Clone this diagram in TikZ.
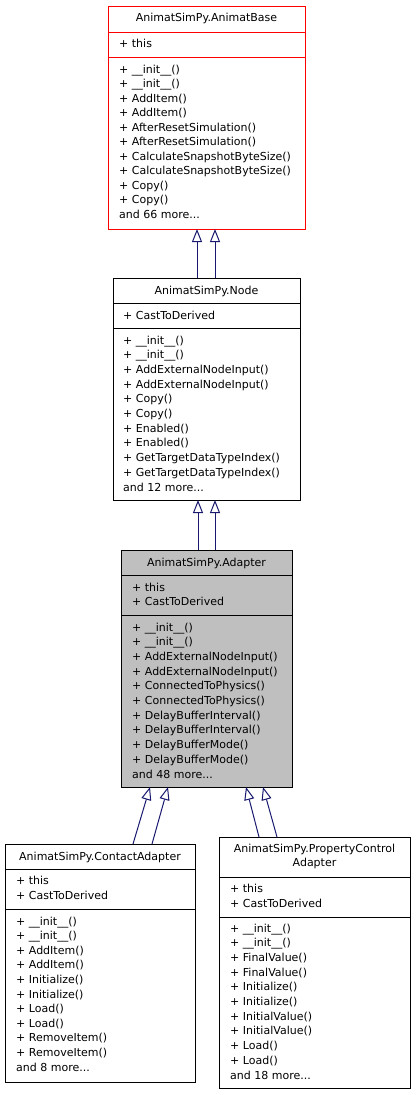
\documentclass[tikz,border=0pt]{standalone}
\usepackage{fontspec}
\setmainfont{DejaVu Sans}
\usetikzlibrary{arrows.meta}
\definecolor{edgeblue}{HTML}{191970}
\definecolor{adgray}{HTML}{BFBFBF}
\newcommand\threedots{...}
\tikzset{
  clsbox/.style={draw=black, line width=1pt, rectangle, inner sep=0pt, anchor=north west, fill=white},
  sepline/.style={draw=black, line width=1pt},
  txt/.style={anchor=base west, inner sep=0pt, font=\fontsize{11}{13}\selectfont},
  ttl/.style={anchor=base, inner sep=0pt, font=\fontsize{11}{13}\selectfont},
  inh/.style={draw=edgeblue, line width=1pt, -{Triangle[open, length=13pt, width=10pt, fill=white]}},
}
\begin{document}
\begin{tikzpicture}[x=1pt, y=-1pt]
\useasboundingbox (0,0) rectangle (415,1095);

% ---------- AnimatBase ----------
\node[clsbox, draw=red, minimum width=197pt, minimum height=223pt] (base) at (108,6) {};
\draw[sepline, draw=red] (108,32) -- (305,32);
\draw[sepline, draw=red] (108,57) -- (305,57);
\node[ttl] (base-t) at (206.5,21) {AnimatSimPy.AnimatBase};
\node[txt] (base-a1) at (119,47) {+ this};
\foreach \t [count=\i from 0] in {+ \_\_init\_\_(), + \_\_init\_\_(), + AddItem(), + AddItem(), + AfterResetSimulation(), + AfterResetSimulation(), + CalculateSnapshotByteSize(), + CalculateSnapshotByteSize(), + Copy(), + Copy(), and 66 more\threedots}
  \node[txt] (base-m\i) at (119,73.3+14.5*\i) {\t};

% ---------- Node ----------
\node[clsbox, minimum width=187pt, minimum height=222pt] (nd) at (113,278) {};
\draw[sepline] (113,303) -- (300,303);
\draw[sepline] (113,328) -- (300,328);
\node[ttl] (nd-t) at (206.5,294) {AnimatSimPy.Node};
\node[txt] (nd-a1) at (123,319) {+ CastToDerived};
\foreach \t [count=\i from 0] in {+ \_\_init\_\_(), + \_\_init\_\_(), + AddExternalNodeInput(), + AddExternalNodeInput(), + Copy(), + Copy(), + Enabled(), + Enabled(), + GetTargetDataTypeIndex(), + GetTargetDataTypeIndex(), and 12 more\threedots}
  \node[txt] (nd-m\i) at (123,344+14.7*\i) {\t};

% ---------- Adapter ----------
\node[clsbox, fill=adgray, minimum width=171pt, minimum height=237pt] (ad) at (121,550) {};
\draw[sepline] (121,575) -- (292,575);
\draw[sepline] (121,615) -- (292,615);
\node[ttl] (ad-t) at (206.5,566) {AnimatSimPy.Adapter};
\node[txt] (ad-a1) at (132,591) {+ this};
\node[txt] (ad-a2) at (132,605) {+ CastToDerived};
\foreach \t [count=\i from 0] in {+ \_\_init\_\_(), + \_\_init\_\_(), + AddExternalNodeInput(), + AddExternalNodeInput(), + ConnectedToPhysics(), + ConnectedToPhysics(), + DelayBufferInterval(), + DelayBufferInterval(), + DelayBufferMode(), + DelayBufferMode(), and 48 more\threedots}
  \node[txt] (ad-m\i) at (132,631+14.7*\i) {\t};

% ---------- ContactAdapter ----------
\node[clsbox, minimum width=190pt, minimum height=238pt] (ca) at (5,844) {};
\draw[sepline] (5,869) -- (195,869);
\draw[sepline] (5,909) -- (195,909);
\node[ttl] (ca-t) at (100,860) {AnimatSimPy.ContactAdapter};
\node[txt] (ca-a1) at (16,884) {+ this};
\node[txt] (ca-a2) at (16,899) {+ CastToDerived};
\foreach \t [count=\i from 0] in {+ \_\_init\_\_(), + \_\_init\_\_(), + AddItem(), + AddItem(), + Initialize(), + Initialize(), + Load(), + Load(), + RemoveItem(), + RemoveItem(), and 8 more\threedots}
  \node[txt] (ca-m\i) at (16,925+14.6*\i) {\t};

% ---------- PropertyControlAdapter ----------
\node[clsbox, minimum width=191pt, minimum height=251pt] (pc) at (219,837) {};
\draw[sepline] (219,877) -- (410,877);
\draw[sepline] (219,917) -- (410,917);
\node[ttl] (pc-t1) at (314.5,852) {AnimatSimPy.PropertyControl};
\node[ttl] (pc-t2) at (314.5,866) {Adapter};
\node[txt] (pc-a1) at (230,892) {+ this};
\node[txt] (pc-a2) at (230,907) {+ CastToDerived};
\foreach \t [count=\i from 0] in {+ \_\_init\_\_(), + \_\_init\_\_(), + FinalValue(), + FinalValue(), + Initialize(), + Initialize(), + InitialValue(), + InitialValue(), + Load(), + Load(), and 18 more\threedots}
  \node[txt] (pc-m\i) at (230,932+14.7*\i) {\t};

% ---------- connectors ----------
\coordinate (nb1) at (197,278); \coordinate (bb1) at (197,229);
\coordinate (nb2) at (215,278); \coordinate (bb2) at (215,229);
\coordinate (an1) at (198,550); \coordinate (na1) at (198,500);
\coordinate (an2) at (215,550); \coordinate (na2) at (215,500);
\coordinate (ct1) at (133,844); \coordinate (ac1) at (150,787);
\coordinate (ct2) at (152,844); \coordinate (ac2) at (168,787);
\coordinate (pt1) at (259,837); \coordinate (ap1) at (246,787);
\coordinate (pt2) at (277,837); \coordinate (ap2) at (263,787);
\draw[inh] (nb1) -- (bb1);
\draw[inh] (nb2) -- (bb2);
\draw[inh] (an1) -- (na1);
\draw[inh] (an2) -- (na2);
\draw[inh] (ct1) -- (ac1);
\draw[inh] (ct2) -- (ac2);
\draw[inh] (pt1) -- (ap1);
\draw[inh] (pt2) -- (ap2);
\end{tikzpicture}
\end{document}
